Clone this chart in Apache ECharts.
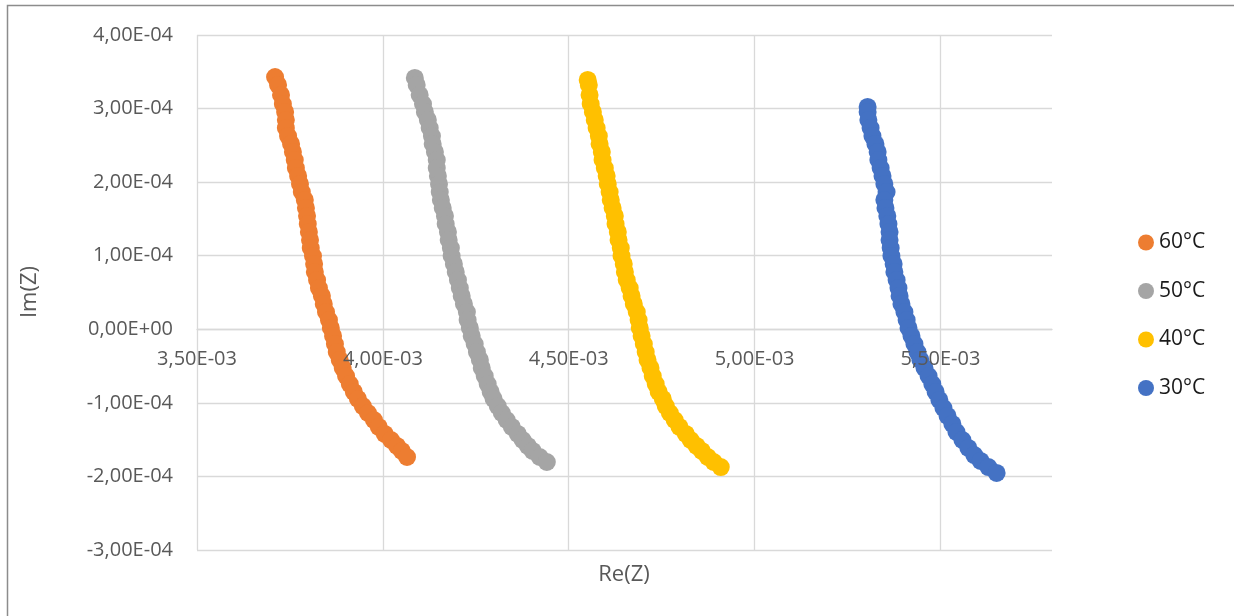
<!DOCTYPE html>
<html>
<head>
<meta charset="utf-8">
<script src="https://cdn.jsdelivr.net/npm/echarts@6/dist/echarts.min.js"></script>
<style>
html,body{margin:0;padding:0;background:#fff;}
#chart{width:1234px;height:616px;}
</style>
</head>
<body>
<div id="chart"></div>
<script>
// Re(Z) values are in units of 1e-3, Im(Z) values in units of 1e-4
const RE_UNIT = 1e-3;
const IM_UNIT = 1e-4;

const seriesNames = ['60°C', '50°C', '40°C', '30°C'];
const seriesColors = ['#ED7D31', '#A5A5A5', '#FFC000', '#4472C4'];

const re60 = [3.710,3.718,3.726,3.731,3.737,3.739,3.739,3.745,3.753,3.758,3.763,3.766,3.772,3.777,3.782,3.790,3.793,3.796,3.798,3.801,3.804,3.806,3.812,3.815,3.817,3.823,3.828,3.836,3.841,3.847,3.855,3.860,3.866,3.871,3.876,3.884,3.892,3.901,3.911,3.922,3.933,3.946,3.960,3.976,3.989,4.005,4.022,4.038,4.051,4.065];
const im60 = [3.429,3.321,3.185,3.062,2.954,2.845,2.736,2.627,2.519,2.410,2.301,2.192,2.084,1.975,1.866,1.758,1.649,1.540,1.431,1.323,1.214,1.105,0.996,0.888,0.779,0.670,0.561,0.453,0.344,0.235,0.126,0.018,-0.091,-0.200,-0.309,-0.417,-0.526,-0.635,-0.744,-0.852,-0.947,-1.043,-1.138,-1.233,-1.328,-1.423,-1.505,-1.586,-1.654,-1.736];

const re50 = [4.086,4.091,4.099,4.108,4.113,4.121,4.126,4.132,4.134,4.140,4.145,4.145,4.148,4.151,4.153,4.156,4.161,4.167,4.169,4.175,4.177,4.183,4.185,4.191,4.196,4.202,4.207,4.212,4.218,4.226,4.228,4.234,4.239,4.247,4.253,4.261,4.266,4.274,4.282,4.290,4.298,4.309,4.320,4.333,4.347,4.363,4.376,4.390,4.403,4.422,4.441];
const im50 = [3.416,3.321,3.185,3.062,2.954,2.845,2.736,2.627,2.519,2.410,2.301,2.192,2.084,1.975,1.866,1.758,1.649,1.540,1.431,1.323,1.214,1.105,0.996,0.888,0.779,0.670,0.561,0.453,0.344,0.235,0.126,0.018,-0.091,-0.200,-0.309,-0.417,-0.526,-0.635,-0.744,-0.852,-0.947,-1.043,-1.138,-1.233,-1.328,-1.423,-1.505,-1.586,-1.654,-1.736,-1.804];

const re40 = [4.551,4.554,4.556,4.559,4.565,4.570,4.575,4.581,4.583,4.589,4.591,4.597,4.602,4.605,4.610,4.613,4.618,4.624,4.626,4.632,4.634,4.640,4.642,4.648,4.651,4.656,4.664,4.669,4.675,4.683,4.688,4.691,4.696,4.702,4.707,4.712,4.720,4.726,4.734,4.742,4.753,4.761,4.772,4.785,4.798,4.815,4.828,4.844,4.858,4.874,4.890,4.909];
const im40 = [3.389,3.321,3.185,3.062,2.954,2.845,2.736,2.627,2.519,2.410,2.301,2.192,2.084,1.975,1.866,1.758,1.649,1.540,1.431,1.323,1.214,1.105,0.996,0.888,0.779,0.670,0.561,0.453,0.344,0.235,0.126,0.018,-0.091,-0.200,-0.309,-0.417,-0.526,-0.635,-0.744,-0.852,-0.947,-1.043,-1.138,-1.233,-1.328,-1.423,-1.505,-1.586,-1.654,-1.736,-1.804,-1.872];

const re30 = [5.304,5.304,5.306,5.312,5.317,5.325,5.331,5.333,5.339,5.344,5.349,5.355,5.349,5.352,5.357,5.360,5.363,5.363,5.366,5.368,5.374,5.376,5.382,5.387,5.390,5.395,5.403,5.409,5.414,5.422,5.430,5.438,5.446,5.457,5.468,5.478,5.487,5.497,5.508,5.519,5.532,5.543,5.559,5.575,5.591,5.608,5.629,5.651];
const im30 = [3.022,2.954,2.845,2.736,2.627,2.519,2.410,2.301,2.192,2.084,1.975,1.866,1.758,1.649,1.540,1.431,1.323,1.214,1.105,0.996,0.888,0.779,0.670,0.561,0.453,0.344,0.235,0.126,0.018,-0.091,-0.200,-0.309,-0.417,-0.526,-0.635,-0.744,-0.852,-0.961,-1.070,-1.178,-1.287,-1.396,-1.505,-1.613,-1.709,-1.790,-1.872,-1.953];

// axis settings (tick values)
const xMin = 3.5e-3, xMax = 5.8e-3, xStep = 0.5e-3;
const yMin = -3e-4, yMax = 4e-4, yStep = 1e-4;

const reData = [re60, re50, re40, re30];
const imData = [im60, im50, im40, im30];

function fmt(v) {
  if (Math.abs(v) < 1e-12) return '0,00E+00';
  const s = v.toExponential(2);
  const parts = s.split('e');
  const e = parseInt(parts[1], 10);
  const sign = e < 0 ? '-' : '+';
  const n = Math.abs(e);
  return parts[0].replace('.', ',') + 'E' + sign + (n < 10 ? '0' : '') + n;
}

const FONT = '"Open Sans", "Liberation Sans", sans-serif';
const chart = echarts.init(document.getElementById('chart'), null, {renderer: 'canvas'});

const series = seriesNames.map((name, i) => ({
  name: name,
  type: 'scatter',
  xAxisIndex: 0,
  yAxisIndex: 0,
  symbol: 'circle',
  symbolSize: 18,
  itemStyle: {color: seriesColors[i], opacity: 1},
  emphasis: {disabled: true},
  data: reData[i].map((r, k) => [r * RE_UNIT, imData[i][k] * IM_UNIT]),
  z: 2
}));

const option = {
  animation: false,
  backgroundColor: '#ffffff',
  grid: {left: 197, top: 35, right: 182, bottom: 66, containLabel: false},
  xAxis: [
    {
      type: 'value', min: xMin, max: xMax, interval: xStep,
      axisLine: {show: true, onZero: true, lineStyle: {color: '#d9d9d9', width: 1.3}},
      axisTick: {show: false},
      axisLabel: {show: false},
      splitLine: {show: true, showMaxLine: false, lineStyle: {color: '#d9d9d9', width: 1.3}},
      z: 0
    },
    {
      type: 'value', min: xMin, max: xMax, interval: xStep,
      position: 'bottom', offset: -220.7,
      axisLine: {show: false, onZero: false},
      axisTick: {show: false},
      splitLine: {show: false},
      axisLabel: {
        show: true, showMaxLabel: false, margin: 20,
        color: '#595959', fontSize: 20, fontFamily: FONT,
        formatter: fmt
      },
      z: 10
    }
  ],
  yAxis: {
    type: 'value', min: yMin, max: yMax, interval: yStep,
    axisLine: {show: false},
    axisTick: {show: false},
    axisLabel: {margin: 24, color: '#595959', fontSize: 20, fontFamily: FONT, formatter: fmt},
    splitLine: {show: true, lineStyle: {color: '#d9d9d9', width: 1.3}}
  },
  legend: {
    orient: 'vertical',
    left: 1133, top: 227,
    itemWidth: 16, itemHeight: 16, itemGap: 27.5,
    icon: 'circle',
    textStyle: {color: '#1a1a1a', fontSize: 21, fontFamily: FONT},
    data: seriesNames
  },
  graphic: [
    {
      type: 'rect', silent: true, z: -1,
      shape: {x: 7.5, y: 5.5, width: 1240, height: 620},
      style: {fill: 'none', stroke: '#8c8c8c', lineWidth: 1.5}
    },
    {
      type: 'text', silent: true,
      x: 30, y: 292, rotation: Math.PI / 2,
      style: {text: 'Im(Z)', fill: '#595959', font: '22px ' + FONT, align: 'center', verticalAlign: 'middle'}
    },
    {
      type: 'text', silent: true,
      x: 624, y: 575,
      style: {text: 'Re(Z)', fill: '#595959', font: '22px ' + FONT, align: 'center', verticalAlign: 'middle'}
    }
  ],
  series: series
};
chart.setOption(option);
</script>
</body>
</html>
